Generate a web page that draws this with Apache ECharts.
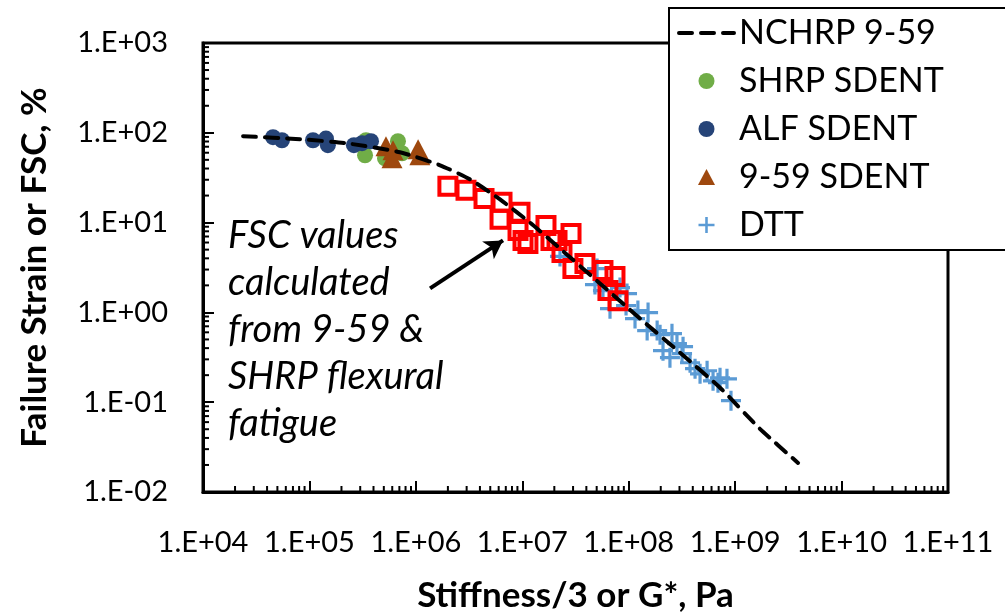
<!DOCTYPE html>
<html>
<head>
<meta charset="utf-8">
<title>Failure strain vs stiffness</title>
<script src="https://cdn.jsdelivr.net/npm/echarts/dist/echarts.min.js"></script>
<style>
  html, body { margin: 0; padding: 0; background: #fff; }
  #chart { width: 1005px; height: 612px; }
</style>
</head>
<body>
<div id="chart"></div>
<script>
// values: [stiffness (Pa), strain (%)]
var nchrp = [
  [2.38e4, 91.6], [8.15e4, 84.9], [2.21e5, 76.6], [7.09e5, 60.7], [1.69e6, 43.5],
  [3.23e6, 30.3], [6.18e6, 18.1], [1.18e7, 10.0], [2.26e7, 5.15], [5.37e7, 2.10],
  [1.28e8, 0.853], [3.03e8, 0.356], [7.21e8, 0.145], [1.71e9, 0.0505], [3.90e9, 0.0211]
];
var shrp = [
  [3.40e5, 82.6], [3.33e5, 56.2], [5.13e5, 52.1], [6.79e5, 80.5], [7.41e5, 59.2]
];
var alf = [
  [4.55e4, 89.3], [5.52e4, 82.6], [1.08e5, 82.6], [1.43e5, 86.3], [1.49e5, 72.8],
  [2.62e5, 72.8], [3.12e5, 76.6], [3.79e5, 80.5]
];
var sdent959 = [
  [5.24e5, 70.8], [5.97e5, 52.1], [6.10e5, 63.9], [1.09e6, 56.2], [1.05e6, 65.7]
];
var dtt = [
  [2.26e7, 4.20], [5.04e7, 3.08], [4.82e7, 2.04], [5.73e7, 1.75], [6.67e7, 1.10],
  [8.28e7, 1.89], [9.64e7, 1.62], [1.146e8, 0.853], [1.22e8, 1.05], [1.52e8, 0.995],
  [1.49e8, 0.627], [1.85e8, 0.627], [1.97e8, 0.565], [2.55e8, 0.580], [2.10e8, 0.375],
  [2.44e8, 0.313], [3.17e8, 0.347], [3.24e8, 0.415], [3.77e8, 0.275], [4.20e8, 0.236],
  [4.68e8, 0.207], [5.45e8, 0.224], [6.20e8, 0.173], [7.21e8, 0.187], [6.90e8, 0.165],
  [8.38e8, 0.182], [9.14e8, 0.104], [9.44e7, 1.19], [2.84e8, 0.449]
];
var fsc = [
  [2.0e6, 25.4], [2.96e6, 22.9], [4.37e6, 18.6], [6.45e6, 16.8], [6.18e6, 10.9],
  [9.52e6, 13.0], [9.12e6, 8.19], [1.016e7, 6.33], [1.67e7, 9.31], [1.86e7, 6.33],
  [2.87e7, 7.57], [2.36e7, 4.65], [2.99e7, 3.08], [3.88e7, 3.51], [5.73e7, 2.93],
  [7.43e7, 2.51], [6.38e7, 1.75], [7.93e7, 1.35], [1.13e7, 5.86], [2.12e7, 6.33]
];
var arrow = [[1.36e6, 1.85], [6.59e6, 6.33]];

var xTickLabels = ['1.E+04', '1.E+05', '1.E+06', '1.E+07', '1.E+08', '1.E+09', '1.E+10', '1.E+11'];
var yTickLabels = ['1.E-02', '1.E-01', '1.E+00', '1.E+01', '1.E+02', '1.E+03'];
var noteText = 'FSC values\ncalculated\nfrom 9-59 &\nSHRP flexural\nfatigue';

var xMin = 1e4, xMax = 1e11, yMin = 0.01, yMax = 1000;

// minor ticks 2..9 in every decade, drawn inside the frame
var minorTicks = [];
for (var e = 4; e < 11; e++) {
  for (var k = 2; k < 10; k++) minorTicks.push([k * Math.pow(10, e), yMin, 0]);
}
for (var e2 = -2; e2 < 3; e2++) {
  for (var k2 = 2; k2 < 10; k2++) minorTicks.push([xMin, k2 * Math.pow(10, e2), 1]);
}

var font = 'Lato';
var plusPath = 'path://M4.2,0H5.8V4.2H10V5.8H5.8V10H4.2V5.8H0V4.2H4.2Z';
var triPath = 'path://M5,0L10,9.4L0,9.4Z';

var chart = echarts.init(document.getElementById('chart'));
chart.setOption({
  animation: false,
  backgroundColor: '#fff',
  grid: {
    left: 203, right: 57, top: 43, bottom: 120,
    outerBoundsMode: 'none', containLabel: false,
    show: true, borderColor: '#000', borderWidth: 3, backgroundColor: 'transparent'
  },
  legend: {
    data: [
      { name: 'NCHRP 9-59', itemStyle: { color: 'rgba(0,0,0,0)', borderWidth: 0 } },
      'SHRP SDENT', 'ALF SDENT', '9-59 SDENT', 'DTT'
    ],
    orient: 'vertical',
    left: 669, top: 8,
    padding: [7, 70, 7, 8],
    itemWidth: 55, itemHeight: 16, itemGap: 12,
    symbolKeepAspect: true,
    backgroundColor: '#fff',
    borderColor: '#000', borderWidth: 2, borderRadius: 0,
    lineStyle: { width: 4 },
    textStyle: { fontFamily: font, fontSize: 34, color: '#000', lineHeight: 36 }
  },
  xAxis: {
    type: 'log', logBase: 10, min: xMin, max: xMax, splitNumber: 7,
    name: 'Stiffness/3 or G*, Pa', nameLocation: 'middle', nameGap: 86,
    nameTextStyle: { fontFamily: font, fontSize: 35, fontWeight: 'bold', color: '#000' },
    axisLine: { lineStyle: { color: '#000', width: 3 } },
    axisTick: { inside: true, length: 11, lineStyle: { color: '#000', width: 2 } },
    axisLabel: {
      margin: 36, fontFamily: font, fontSize: 29, color: '#000',
      formatter: function (v) { return xTickLabels[Math.round(Math.log10(v)) - 4]; }
    },
    splitLine: { show: false }
  },
  yAxis: {
    type: 'log', logBase: 10, min: yMin, max: yMax, splitNumber: 5,
    name: 'Failure Strain or FSC, %', nameLocation: 'middle', nameGap: 151, nameRotate: 90,
    nameTextStyle: { fontFamily: font, fontSize: 35, fontWeight: 'bold', color: '#000' },
    axisLine: { lineStyle: { color: '#000', width: 3 } },
    axisTick: { inside: true, length: 11, lineStyle: { color: '#000', width: 2 } },
    axisLabel: {
      margin: 35, fontFamily: font, fontSize: 29, color: '#000',
      formatter: function (v) { return yTickLabels[Math.round(Math.log10(v)) + 2]; }
    },
    splitLine: { show: false }
  },
  graphic: [{
    type: 'text', left: 228, top: 212, silent: true,
    style: {
      text: noteText, fill: '#000', lineHeight: 47,
      font: 'italic 38px ' + font
    }
  }],
  series: [
    {
      name: 'minor', type: 'custom', silent: true, clip: false, z: 3,
      data: minorTicks,
      renderItem: function (params, api) {
        var p = api.coord([api.value(0), api.value(1)]);
        var onY = api.value(2) === 1;
        return {
          type: 'line',
          shape: onY ? { x1: p[0], y1: p[1], x2: p[0] + 6, y2: p[1] }
                     : { x1: p[0], y1: p[1], x2: p[0], y2: p[1] - 6 },
          style: { stroke: '#000', lineWidth: 2 }
        };
      }
    },
    {
      name: 'NCHRP 9-59', type: 'line', data: nchrp, symbol: 'none', smooth: 0.2,
      color: '#000',
      lineStyle: { color: '#000', width: 4, type: [13, 9], cap: 'round' }
    },
    {
      name: 'SHRP SDENT', type: 'scatter', data: shrp, symbol: 'circle', symbolSize: 16,
      itemStyle: { color: '#70AD47', opacity: 1 }
    },
    {
      name: 'ALF SDENT', type: 'scatter', data: alf, symbol: 'circle', symbolSize: 16,
      itemStyle: { color: '#264478', opacity: 1 }
    },
    {
      name: '9-59 SDENT', type: 'scatter', data: sdent959, symbol: triPath, symbolSize: [21, 20],
      itemStyle: { color: '#9E480E', opacity: 1 }
    },
    {
      name: 'DTT', type: 'scatter', data: dtt, symbol: plusPath, symbolSize: 20,
      itemStyle: { color: '#5B9BD5', opacity: 1 }
    },
    {
      name: 'FSC', type: 'scatter', data: fsc, symbol: 'rect', symbolSize: 17,
      itemStyle: { color: 'rgba(0,0,0,0)', borderColor: '#FF0000', borderWidth: 4, opacity: 1 },
      markLine: {
        silent: true, symbol: ['none', 'arrow'], symbolSize: [16, 18],
        label: { show: false },
        lineStyle: { color: '#000', width: 4, type: 'solid' },
        data: [[{ coord: arrow[0] }, { coord: arrow[1] }]]
      }
    }
  ]
});
</script>
</body>
</html>
